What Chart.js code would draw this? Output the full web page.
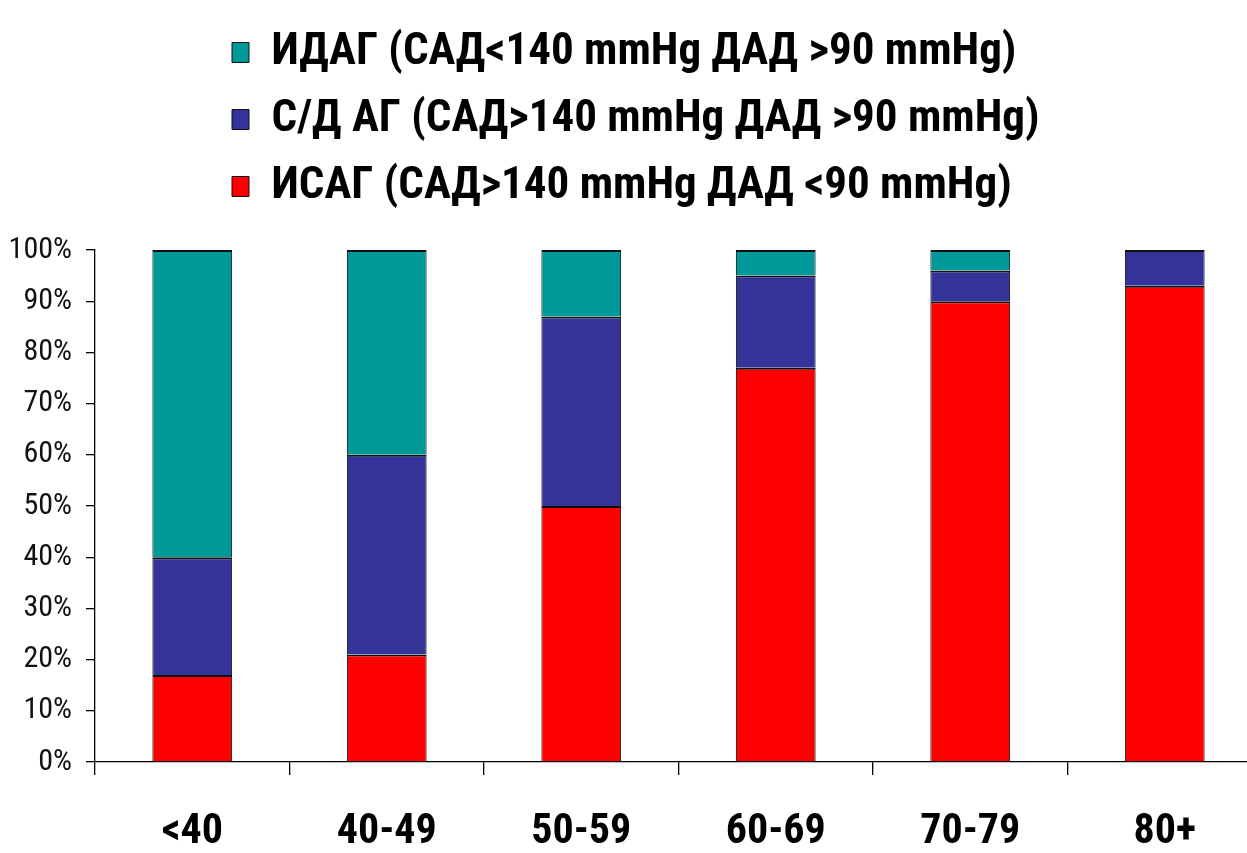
<!DOCTYPE html>
<html lang="ru">
<head>
  <meta charset="UTF-8" />
  <title>АГ по возрастным группам</title>
  <script src="https://cdn.jsdelivr.net/npm/chart.js"></script>
  <style>
    html, body { margin: 0; padding: 0; background: #fff; overflow: hidden; }
    .wrap { width: 1265px; height: 853px; }
  </style>
</head>
<body>
  <div class="wrap"><canvas id="chart"></canvas></div>
  <script>
    // age groups and shares (%)
    const ageGroups = ['<40', '40-49', '50-59', '60-69', '70-79', '80+'];
    const isag = [17, 21, 50, 77, 90, 93];   // red, bottom
    const sdag = [23, 39, 37, 18, 6, 7];     // blue, middle
    const idag = [60, 40, 13, 5, 4, 0];      // teal, top
    const seriesNames = [
      'ИСАГ (САД>140 mmHg ДАД <90 mmHg)',
      'С/Д АГ (САД>140 mmHg ДАД >90 mmHg)',
      'ИДАГ (САД<140 mmHg ДАД >90 mmHg)'
    ];
    const yTicks = [0, 10, 20, 30, 40, 50, 60, 70, 80, 90, 100];

    const narrow = '"Liberation Sans Narrow", "Arial Narrow", "Roboto Condensed", "Noto Sans Condensed", "DejaVu Sans Condensed", Arial, sans-serif';

    // legend: extra gap below it, every row starts at the same x
    const LEGEND_X = 232;
    const legendTweak = {
      id: 'legendTweak',
      beforeInit(chart) {
        const lg = chart.legend;
        const fit = lg.fit;
        lg.fit = function () {
          fit.call(this);
          this.height += 31;
        };
      },
      beforeDraw(chart) {
        const lg = chart.legend;
        const pad = lg.options.labels.padding;
        const w = lg.left + pad + lg.right - 2 * LEGEND_X;
        lg.lineWidths = lg.lineWidths.map(() => w);
      }
    };

    const axisLine = { display: true, color: '#000', width: 1.3 };

    new Chart(document.getElementById('chart'), {
      type: 'bar',
      data: {
        labels: ageGroups,
        datasets: [
          { label: seriesNames[0], data: isag, backgroundColor: '#ff0000' },
          { label: seriesNames[1], data: sdag, backgroundColor: '#333399' },
          { label: seriesNames[2], data: idag, backgroundColor: '#009999' }
        ].map(d => Object.assign(d, {
          borderColor: '#111',
          borderWidth: { top: 2, left: 1, right: 1, bottom: 0 },
          borderSkipped: false,
          categoryPercentage: 1,
          barPercentage: 0.41
        }))
      },
      options: {
        responsive: true,
        maintainAspectRatio: false,
        animation: false,
        layout: { padding: { top: 8, left: 0, right: 3, bottom: 0 } },
        plugins: {
          legend: {
            position: 'top',
            reverse: true,
            labels: {
              color: '#000',
              font: { family: narrow, size: 45, weight: 'bold' },
              boxWidth: 17,
              boxHeight: 20,
              padding: 22
            }
          },
          tooltip: { enabled: false }
        },
        scales: {
          x: {
            stacked: true,
            offset: true,
            afterFit(scale) { scale.height = 91; },
            grid: { offset: true, drawOnChartArea: false, tickLength: 13, color: '#000', lineWidth: 1.3 },
            border: axisLine,
            ticks: {
              color: '#000',
              padding: 32,
              font: { family: narrow, size: 42, weight: 'bold' }
            }
          },
          y: {
            stacked: true,
            min: 0,
            max: 100,
            afterFit(scale) { scale.width = 95; },
            afterBuildTicks(axis) { axis.ticks = yTicks.map(v => ({ value: v })); },
            grid: { drawOnChartArea: false, tickLength: 9, color: '#000', lineWidth: 1.3 },
            border: axisLine,
            ticks: {
              color: '#111',
              padding: 14,
              font: { family: narrow, size: 30 },
              callback: v => v + '%'
            }
          }
        }
      },
      plugins: [legendTweak]
    });
  </script>
</body>
</html>
